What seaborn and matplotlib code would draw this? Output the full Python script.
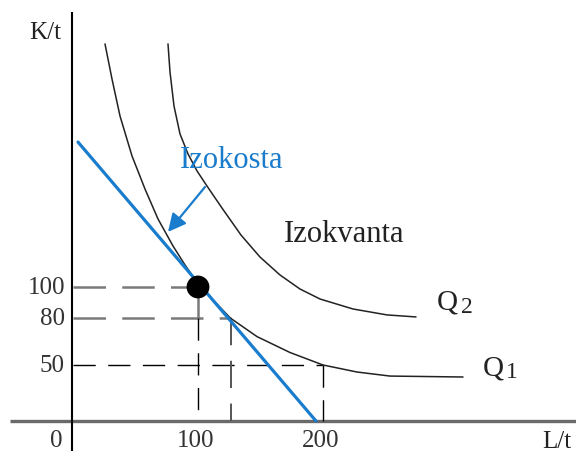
import matplotlib
matplotlib.use("Agg")
import matplotlib.pyplot as plt
import seaborn as sns
import pandas as pd

# Isoquant Q1 (labour L/t, capital K/t)
q1_L = [25.6, 31.2, 37.6, 47.2, 57.6, 68, 80, 89.6, 100, 112, 126, 147.2, 173.6, 200, 227.2, 253.6, 312]
q1_K = [255.8, 233.3, 209.6, 184, 162.8, 143.6, 126.3, 114.1, 102, 91.7, 80, 68.2, 58, 50, 45.5, 42.9, 42.3]

# Isoquant Q2
q2_L = [76, 77.6, 80.8, 85.6, 92, 99.2, 107.2, 119.2, 134.4, 149.6, 165.6, 181.6, 197.6, 224, 251.2, 274.4]
q2_K = [255.8, 237.8, 216, 198.1, 185.3, 174.4, 164.7, 150.6, 133.3, 119.2, 107.7, 98.7, 92.3, 85.9, 82.1, 80.8]

# Isocost line
iso_L = [4, 194.4]
iso_K = [192.9, 14.1]

# Optimum and reference points on Q1
opt_L, opt_K = 100, 100
p80_L, p80_K = 126, 80
p50_L, p50_K = 200, 50

x_ticks = [100, 200]
y_ticks = [100, 80, 50]

# level at which the L axis is drawn in this schematic
k_axis = 14.1

sns.set_theme(style="white")
plt.rcParams["font.family"] = ["Liberation Serif", "DejaVu Serif"]

fig = plt.figure(figsize=(5.76, 4.52), dpi=100)
ax = fig.add_axes([0, 0, 1, 1])
ax.set_xlim(-58.4, 402.4)
ax.set_ylim(-5.13, 284.6)
ax.axis("off")

blue = "#1a7ccc"
grey = "#7a7a7a"

# Axes lines
ax.plot([-50.4, 402.4], [k_axis, k_axis], color="#6a6a6a", lw=2.4, solid_capstyle="butt")
ax.plot([-0.5, -0.5], [276.3, -5.13], color="black", lw=1.5, solid_capstyle="butt")

# Dashed guides
gdash = dict(color=grey, lw=1.8, dashes=(13, 6.5))
bdash = dict(color="black", lw=1.0, dashes=(16, 9))
ax.plot([0, opt_L], [opt_K, opt_K], **gdash)
ax.plot([0, p80_L], [p80_K, p80_K], **gdash)
ax.plot([0, p50_L], [p50_K, p50_K], **bdash)
ax.plot([opt_L, opt_L], [opt_K, p80_K], color=grey, lw=1.8)
ax.plot([opt_L, opt_L], [p80_K, k_axis], **bdash)
ax.plot([p80_L, p80_L], [p80_K, k_axis], color="#555555", lw=1.4, dashes=(14, 8))
ax.plot([p50_L, p50_L], [p50_K, k_axis], **bdash)

# Isoquants
curves = pd.DataFrame({
    "L": q1_L + q2_L,
    "K": q1_K + q2_K,
    "Q": ["Q1"] * len(q1_L) + ["Q2"] * len(q2_L),
})
sns.lineplot(data=curves, x="L", y="K", units="Q", estimator=None, sort=False,
             color="#222222", lw=1.1, ax=ax, legend=False)

# Isocost
sns.lineplot(x=iso_L, y=iso_K, color=blue, lw=2.3, sort=False, estimator=None, ax=ax)

# Optimum point
sns.scatterplot(x=[opt_L], y=[opt_K], color="black", s=270, edgecolor="none", ax=ax, zorder=5)

# Arrow to the isocost
ax.annotate("", xy=(76, 135.3), xytext=(105.6, 164.1),
            arrowprops=dict(arrowstyle="-|>,head_length=0.9,head_width=0.45",
                            color=blue, lw=1.6, shrinkA=0, shrinkB=0))

fs = 18
text_c = "#333333"
# Tick labels
for k in y_ticks:
    ax.text(-6.5, k, str(k), ha="right", va="center", fontsize=fs, color=text_c)
for l in x_ticks:
    ax.text(l - 2, 1.9, str(l), ha="center", va="center", fontsize=fs, color=text_c)
ax.text(-13.5, 1.9, "0", ha="center", va="center", fontsize=fs, color=text_c)

# Axis titles
ax.text(-22.4, 263.5, "K/t", ha="center", va="center", fontsize=fs, color="#222222")
ax.text(387, 1.3, "L/t", ha="center", va="center", fontsize=fs, color="#222222")

# Curve labels
ax.text(85.6, 182, "Izokosta", ha="left", va="center", fontsize=22, color=blue)
ax.text(169, 134.6, "Izokvanta", ha="left", va="center", fontsize=22, color="#222222")
ax.text(291.2, 85.9, "Q", ha="left", va="baseline", fontsize=21, color="#222222")
ax.text(310.5, 84, "2", ha="left", va="baseline", fontsize=17, color="#222222")
ax.text(328, 44.2, "Q", ha="left", va="baseline", fontsize=21, color="#222222")
ax.text(346, 42.3, "1", ha="left", va="baseline", fontsize=17, color="#222222")

fig.savefig("out.png", dpi=100)
